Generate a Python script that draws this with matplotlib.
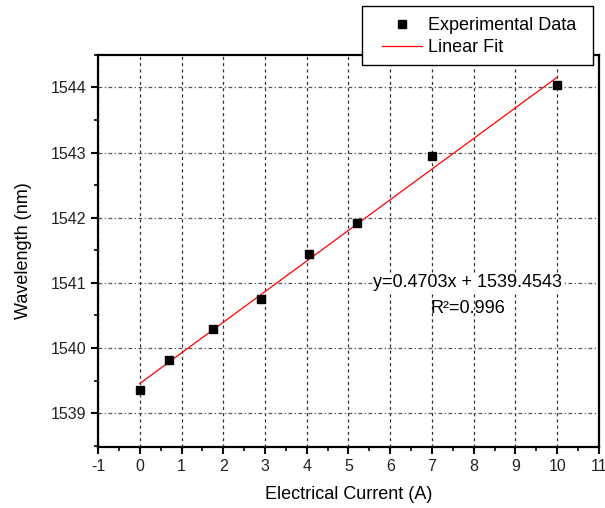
import matplotlib
matplotlib.use("Agg")
import matplotlib.pyplot as plt
import numpy as np
from matplotlib.ticker import MultipleLocator
from matplotlib.patches import Rectangle

plt.rcParams["font.family"] = ["Liberation Sans", "DejaVu Sans"]
plt.rcParams["axes.unicode_minus"] = False

# measured points
current = [0.0, 0.69, 1.76, 2.90, 4.06, 5.20, 7.01, 10.0]
wavelength = [1539.36, 1539.82, 1540.29, 1540.76, 1541.45, 1541.92, 1542.95, 1544.04]

# linear fit from the figure
slope = 0.4703
intercept = 1539.4543
fit_x = np.array([0.0, 10.0])

W, H = 605, 508
fig = plt.figure(figsize=(W / 100, H / 100), dpi=100)
ax = fig.add_axes([0.162, 0.120, 0.828, 0.772])

ax.plot(current, wavelength, "s", color="black", markersize=6,
        label="Experimental Data", zorder=4)
ax.plot(fit_x, slope * fit_x + intercept, color="red", linewidth=0.9,
        label="Linear Fit", zorder=3)

ax.set_xlim(-1, 11)
ax.set_ylim(1538.48, 1544.5)
ax.xaxis.set_major_locator(MultipleLocator(1))
ax.xaxis.set_minor_locator(MultipleLocator(0.5))
ax.yaxis.set_major_locator(MultipleLocator(1))
ax.yaxis.set_minor_locator(MultipleLocator(0.5))
ax.tick_params(which="major", direction="out", length=5, width=1.5, labelsize=11.5,
               labelcolor="#222222")
ax.tick_params(which="minor", direction="out", length=3, width=1.2)
for s in ax.spines.values():
    s.set_linewidth(1.6)

# grid: dashed verticals, dash-dot horizontals
ax.xaxis.grid(True, which="major", linestyle=(0, (2.5, 2.5)), color="#333333", linewidth=0.9)
ax.yaxis.grid(True, which="major", linestyle=(0, (3, 2, 1, 2)), color="#555555", linewidth=0.9)
ax.set_axisbelow(True)

ax.set_xlabel("Electrical Current (A)", fontsize=13, labelpad=9)
ax.set_ylabel("Wavelength (nm)", fontsize=13, labelpad=13)

ax.text(7.86, 1541.01, "y=0.4703x + 1539.4543", fontsize=13, ha="center", va="center",
        bbox=dict(facecolor="white", edgecolor="none", pad=0.5), zorder=5)
ax.text(7.86, 1540.6, "R²=0.996", fontsize=13, ha="center", va="center", zorder=5)

# legend box sits over the top spine, drawn as a separate frame
frame = Rectangle((362 / W, 1 - 65 / H), 231 / W, 59 / H, transform=fig.transFigure,
                  facecolor="white", edgecolor="black", linewidth=1.0, zorder=5)
fig.patches.append(frame)

handles, labels = ax.get_legend_handles_labels()
leg = fig.legend(handles, labels, loc="upper left", bbox_to_anchor=(382 / W, 1 - 17 / H),
                 fontsize=13, frameon=False, borderaxespad=0, borderpad=0,
                 handlelength=2.2, handletextpad=0.35, labelspacing=0.3)
leg.set_zorder(6)

fig.savefig("out.png", dpi=100)
